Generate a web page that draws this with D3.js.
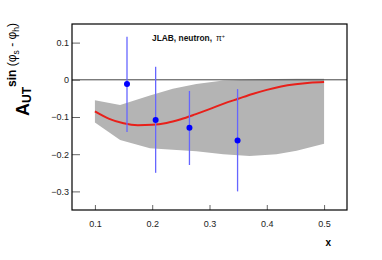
<!DOCTYPE html>
<html><head><meta charset="utf-8">
<script src="https://cdn.jsdelivr.net/npm/d3@7"></script>
<style>body{margin:0;background:#fff}svg{display:block}text{font-family:"Liberation Sans",Arial,Helvetica,sans-serif}</style>
</head><body><svg id="c" width="382" height="260"></svg>
<script>
const xTicks = [0.1, 0.2, 0.3, 0.4, 0.5];
const yTicks = [0.1, 0, -0.1, -0.2, -0.3];
const yTickLabels = ["0.1", "0", "\u22120.1", "\u22120.2", "\u22120.3"];

const pointX = [0.156, 0.206, 0.265, 0.349];
const pointY = [-0.011, -0.108, -0.129, -0.163];
const errHigh = [0.116, 0.035, -0.030, -0.025];
const errLow = [-0.140, -0.250, -0.229, -0.300];

const bandX = [0.1, 0.144, 0.196, 0.236, 0.277, 0.324, 0.37, 0.417, 0.452, 0.5];
const bandHigh = [-0.055, -0.068, -0.042, -0.024, -0.011, -0.002, 0.0, 0.002, 0.003, 0.003];
const bandLow = [-0.115, -0.162, -0.184, -0.188, -0.192, -0.200, -0.205, -0.200, -0.191, -0.172];

const curveX = [0.1, 0.125, 0.15, 0.175, 0.2, 0.225, 0.25, 0.275, 0.3, 0.325, 0.35, 0.375, 0.4, 0.425, 0.45, 0.475, 0.5];
const curveY = [-0.085, -0.105, -0.117, -0.122, -0.121, -0.116, -0.106, -0.093, -0.079, -0.064, -0.051, -0.038, -0.027, -0.018, -0.012, -0.008, -0.006];

const L = 72, R = 347, T = 24, B = 210;
const svg = d3.select("#c");
const x = d3.scaleLinear().domain([0.06, 0.54]).range([L, R]);
const y = d3.scaleLinear().domain([-0.35, 0.15]).range([B, T]);

// band
const band = bandX.map((v, i) => ({x: v, lo: bandLow[i], hi: bandHigh[i]}));
svg.append("path").datum(band)
  .attr("d", d3.area().x(d => x(d.x)).y0(d => y(d.lo)).y1(d => y(d.hi)))
  .attr("fill", "#b4b4b4");

// zero line
svg.append("line").attr("x1", L).attr("x2", R).attr("y1", y(0)).attr("y2", y(0))
  .attr("stroke", "#444").attr("stroke-width", 1);

// curve
const cur = curveX.map((v, i) => [v, curveY[i]]);
svg.append("path").datum(cur)
  .attr("d", d3.line().x(d => x(d[0])).y(d => y(d[1])).curve(d3.curveMonotoneX))
  .attr("fill", "none").attr("stroke", "#e8201a").attr("stroke-width", 2);

// error bars
const pts = pointX.map((v, i) => ({x: v, y: pointY[i], hi: errHigh[i], lo: errLow[i]}));
svg.selectAll("line.err").data(pts).join("line").attr("class", "err")
  .attr("x1", d => x(d.x)).attr("x2", d => x(d.x))
  .attr("y1", d => y(d.hi)).attr("y2", d => y(d.lo))
  .attr("stroke", "#6666ff").attr("stroke-width", 1.3);
svg.selectAll("circle.pt").data(pts).join("circle").attr("class", "pt")
  .attr("cx", d => x(d.x)).attr("cy", d => y(d.y)).attr("r", 3)
  .attr("fill", "#0000ff");

// axes ticks (inner)
const xa = svg.append("g").attr("transform", `translate(0,${B})`)
  .call(d3.axisBottom(x).tickValues(xTicks).tickSize(-5).tickPadding(11).tickFormat(d3.format(".1f")));
const ya = svg.append("g").attr("transform", `translate(${L},0)`)
  .call(d3.axisLeft(y).tickValues(yTicks).tickSize(-8).tickPadding(3).tickFormat((d, i) => yTickLabels[i]));
[xa, ya].forEach(g => {
  g.select(".domain").remove();
  g.selectAll(".tick line").attr("stroke", "#666");
  g.selectAll(".tick text").attr("font-size", 9).attr("fill", "#222")
    .style("font-family", "'Liberation Sans',Arial,sans-serif");
});

// frame
svg.append("rect").attr("x", L).attr("y", T).attr("width", R - L).attr("height", B - T)
  .attr("fill", "none").attr("stroke", "#000").attr("stroke-width", 1.2);

// annotation
const ann = svg.append("text").attr("x", 152).attr("y", 41).attr("font-size", 8.4).attr("fill", "#111");
ann.append("tspan").attr("font-weight", "bold").text("JLAB, neutron,");
ann.append("tspan").attr("dx", 4).text("\u03c0");
ann.append("tspan").attr("font-size", 5.5).attr("dy", -3).text("+");

// x title
svg.append("text").attr("x", 331).attr("y", 246).attr("text-anchor", "end")
  .attr("font-size", 10).attr("font-weight", "bold").text("x");

// y title
const yt = svg.append("text").attr("transform", "translate(29,116) rotate(-90)").attr("fill", "#000");
yt.append("tspan").attr("font-size", 18).attr("font-weight", "bold").text("A");
yt.append("tspan").attr("font-size", 12).attr("font-weight", "bold").attr("dy", 2).text("UT");
yt.append("tspan").attr("font-size", 12).attr("font-weight", "bold").attr("dy", -15).attr("dx", 1).text("sin");
yt.append("tspan").attr("font-size", 12).text(" (\u03c6");
yt.append("tspan").attr("font-size", 8.5).attr("dy", 3).text("s");
yt.append("tspan").attr("font-size", 12).attr("dy", -3).text(" - \u03c6");
yt.append("tspan").attr("font-size", 8.5).attr("dy", 3).text("h");
yt.append("tspan").attr("font-size", 12).attr("dy", -3).text(")");
</script></body></html>
